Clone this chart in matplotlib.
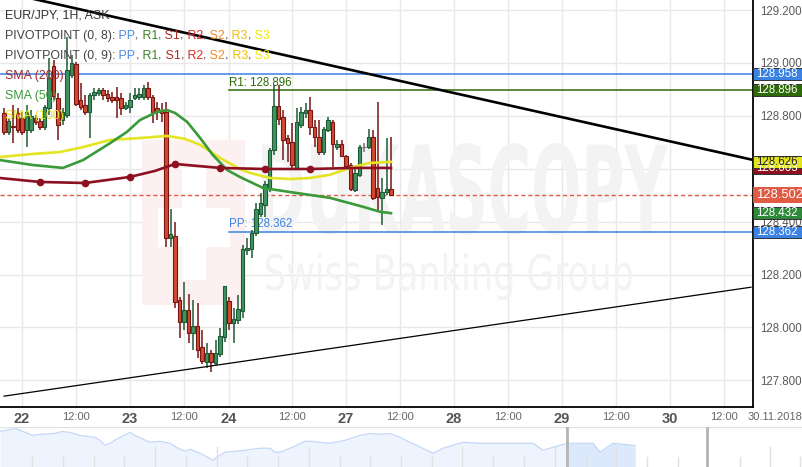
import numpy as np
import matplotlib
matplotlib.use("Agg")
import matplotlib.pyplot as plt
from matplotlib.patches import Rectangle, PathPatch
from matplotlib.textpath import TextPath
from matplotlib.font_manager import FontProperties
from matplotlib.transforms import Affine2D, blended_transform_factory

plt.rcParams['font.family'] = ['Liberation Sans', 'DejaVu Sans']

# hourly candles (bar index 0 = first visible bar)
bar_open = [128.811, 128.739, 128.762, 128.811, 128.792, 128.747, 128.747, 128.792, 128.781, 128.758,
            128.830, 128.989, 128.868, 128.784, 128.803, 128.955, 128.996, 128.860, 128.841, 128.815,
            128.879, 128.886, 128.898, 128.883, 128.871, 128.871, 128.868, 128.830, 128.834, 128.868,
            128.871, 128.871, 128.905, 128.871, 128.830, 128.822, 128.815, 128.338, 128.346, 128.104,
            128.021, 128.066, 127.979, 128.006, 127.926, 127.870, 127.904, 127.866, 127.900, 127.964,
            128.100, 128.017, 128.028, 128.062, 128.293, 128.297, 128.357, 128.429, 128.463, 128.527,
            128.671, 128.837, 128.796, 128.716, 128.701, 128.603, 128.766, 128.811, 128.822, 128.758,
            128.720, 128.663, 128.747, 128.777, 128.682, 128.694, 128.648, 128.614, 128.520, 128.577,
            128.682, 128.682, 128.720, 128.527, 128.490, 128.512, 128.524]
bar_high = [128.830, 128.792, 128.841, 128.830, 128.815, 128.841, 128.822, 128.803, 128.792, 128.841,
            129.019, 129.011, 128.886, 128.830, 129.098, 129.030, 129.004, 128.924, 128.879, 128.886,
            128.905, 128.905, 128.905, 128.898, 128.890, 128.909, 128.886, 128.852, 128.886, 128.905,
            128.905, 128.917, 128.928, 128.879, 128.852, 128.849, 128.852, 128.448, 128.399, 128.115,
            128.172, 128.127, 128.104, 128.093, 127.991, 127.941, 127.915, 127.953, 127.998, 128.157,
            128.115, 128.074, 128.123, 128.312, 128.338, 128.369, 128.471, 128.508, 128.554, 128.679,
            128.917, 128.917, 128.822, 128.728, 128.773, 128.830, 128.834, 128.849, 128.871, 128.784,
            128.784, 128.758, 128.796, 128.784, 128.709, 128.709, 128.652, 128.622, 128.607, 128.690,
            128.697, 128.750, 128.747, 128.852, 128.565, 128.716, 128.720]
bar_low = [128.728, 128.728, 128.697, 128.735, 128.728, 128.682, 128.735, 128.766, 128.747, 128.747,
           128.803, 128.860, 128.709, 128.766, 128.792, 128.943, 128.837, 128.822, 128.803, 128.716,
           128.860, 128.875, 128.860, 128.852, 128.849, 128.792, 128.803, 128.822, 128.811, 128.860,
           128.860, 128.860, 128.860, 128.773, 128.784, 128.777, 128.304, 128.304, 128.074, 127.960,
           127.991, 127.941, 127.915, 127.885, 127.862, 127.847, 127.832, 127.855, 127.889, 127.945,
           127.991, 127.941, 128.013, 128.036, 128.274, 128.263, 128.346, 128.418, 128.418, 128.512,
           128.652, 128.766, 128.633, 128.626, 128.595, 128.595, 128.754, 128.792, 128.728, 128.682,
           128.652, 128.652, 128.739, 128.607, 128.671, 128.645, 128.607, 128.516, 128.512, 128.569,
           128.663, 128.675, 128.482, 128.437, 128.388, 128.501, 128.497]
bar_close = [128.739, 128.781, 128.758, 128.747, 128.739, 128.815, 128.800, 128.777, 128.758, 128.834,
             128.943, 128.875, 128.766, 128.815, 128.973, 129.000, 128.845, 128.834, 128.815, 128.879,
             128.890, 128.898, 128.879, 128.868, 128.860, 128.860, 128.830, 128.841, 128.860, 128.879,
             128.883, 128.905, 128.871, 128.815, 128.815, 128.811, 128.338, 128.353, 128.096, 128.021,
             128.066, 127.979, 128.006, 127.915, 127.873, 127.904, 127.870, 127.904, 127.968, 128.157,
             128.017, 128.032, 128.070, 128.297, 128.301, 128.357, 128.448, 128.471, 128.542, 128.671,
             128.837, 128.788, 128.709, 128.697, 128.614, 128.777, 128.815, 128.822, 128.758, 128.720,
             128.663, 128.750, 128.784, 128.694, 128.694, 128.648, 128.610, 128.523, 128.584, 128.682,
             128.682, 128.720, 128.490, 128.493, 128.512, 128.524, 128.502]

# moving averages, read at a few bar positions
sma200_x = [-1, 8, 18, 28, 33.6, 38, 48, 58, 68, 78, 86]
sma200_y = [128.565, 128.550, 128.546, 128.569, 128.592, 128.618, 128.603, 128.599, 128.599, 128.603, 128.603]
sma200_dots = [1, 2, 3, 5, 6, 7, 8]
sma50_x = [-1, 6.4, 13.1, 17.6, 23.6, 27.3, 30.2, 34, 36.2, 38, 40.7, 43.6, 46.4, 49.6, 52.4, 57.6, 65.1, 72.4, 79.8, 83.6, 86]
sma50_y = [128.633, 128.614, 128.603, 128.633, 128.697, 128.739, 128.784, 128.815, 128.822, 128.811, 128.777,
           128.716, 128.652, 128.595, 128.569, 128.527, 128.508, 128.490, 128.456, 128.437, 128.432]
sma100_x = [-1, 6.4, 12.4, 17.6, 23.6, 30.2, 36.2, 40.2, 43.6, 48, 52.4, 54.7, 59.1, 63.6, 68, 72.4, 76.9, 81.3, 86]
sma100_y = [128.644, 128.656, 128.663, 128.682, 128.709, 128.716, 128.724, 128.713, 128.690, 128.641, 128.599,
            128.584, 128.565, 128.561, 128.565, 128.577, 128.603, 128.622, 128.626]

# trend lines
upper_x = [0, 166]
upper_y = [129.267, 128.635]
lower_x = [0, 166]
lower_y = [127.740, 128.152]

# pivot levels
pp_prev = 128.958
r1 = 128.896
pp = 128.362
pivot_start = 50
last_price = 128.502

# axis ticks
tick_x = [4, 16, 28, 40, 50, 64, 76, 88, 100, 112, 124, 136, 148, 160]
tick_labels = ['22', '12:00', '23', '12:00', '24', '12:00', '27', '12:00',
               '28', '12:00', '29', '12:00', '30', '12:00']
price_ticks = [127.8, 128.0, 128.2, 128.4, 128.6, 128.8, 129.0, 129.2]

# right side price tags
tag_values = [128.958, 128.896, 128.603, 128.626, 128.502, 128.432, 128.362]
tag_colors = ['#3a82e4', '#2c6a06', '#8c1020', '#e4e41e', '#e05a44', '#2e8a3a', '#3a82e4']
tag_text = ['white', 'white', 'white', '#222222', 'white', 'white', 'white']

# navigator area (pixel x, height)
nav_x = [0, 15, 33, 40, 55, 62, 70, 80, 95, 100, 105, 110, 118, 130, 135, 150, 160, 170, 178, 185,
         190, 200, 213, 217, 225, 235, 245, 260, 270, 275, 280, 290, 305, 310, 330, 345, 360, 370,
         380, 390, 400, 410, 433, 443, 463, 480, 510, 533, 543, 560, 568, 593, 600, 613, 633, 635]
nav_h = [36, 39, 32, 33, 34, 36, 35, 32, 30, 27, 22, 24, 29, 35, 32, 25, 26, 24, 19, 16,
         18, 14, 7, 10, 15, 16, 17, 19, 19, 15, 15, 19, 26, 26, 24, 27, 32, 34,
         33, 34, 30, 25, 14, 19, 25, 24, 24, 24, 17, 22, 24, 24, 15, 24, 22, 22]
nav_short_ticks = [32, 63, 94, 124, 186, 247, 278, 340, 370, 401, 432, 493, 524, 586, 647, 678, 740, 800]
nav_tall_ticks = [155, 217, 309, 462, 555, 616, 770]

W, H = 803, 467
fig = plt.figure(figsize=(W / 100, H / 100), dpi=100)
ax = fig.add_axes([0, (H - 407) / H, 753 / W, 407 / H])
ax.set_xlim(-0.89, 166.44)
ax.set_ylim(127.699, 129.238)

for p in price_ticks:
    ax.axhline(p, color='#e8e8e8', lw=1, zorder=0)
for t in tick_x:
    ax.axvline(t, color='#e8e8e8', lw=1, zorder=0)

# watermark, drawn in axes pixel space
pix = Affine2D().scale(1 / 753, -1 / 407).translate(0, 1) + ax.transAxes


def fit_text(s, x0, y0, x1, y1, weight, color):
    tp = TextPath((0, 0), s, size=10, prop=FontProperties(family='DejaVu Sans', weight=weight))
    e = tp.get_extents()
    tr = Affine2D().translate(-e.x0, -e.y0).scale((x1 - x0) / e.width, -(y1 - y0) / e.height).translate(x0, y1)
    ax.add_patch(PathPatch(tp, transform=tr + pix, facecolor=color, edgecolor='none', zorder=0.5))


ax.add_patch(Rectangle((142, 140), 103, 165, transform=pix, facecolor='#fdf0f1', edgecolor='none', zorder=0.4))
ax.add_patch(Rectangle((182, 168), 24, 112, transform=pix, facecolor='white', edgecolor='none', zorder=0.45))
ax.add_patch(Rectangle((158, 208), 72, 39, transform=pix, facecolor='white', edgecolor='none', zorder=0.45))
fit_text('DUKASCOPY', 262, 143, 668, 235, 'bold', '#f3f3f3')
fit_text('Swiss Banking Group', 266, 253, 632, 300, 'normal', '#f3f3f3')

# pivot lines
ax.axhline(pp_prev, color='#3a82e4', lw=1.1, zorder=2)
ax.plot([pivot_start, 170], [r1, r1], color='#2c6a06', lw=1.1, zorder=2)
ax.plot([pivot_start, 170], [pp, pp], color='#3a82e4', lw=1.1, zorder=2)
ax.text(pivot_start, r1 + 0.006, 'R1: %.3f' % r1, color='#2c6a06', fontsize=8.3, va='bottom', ha='left')
ax.text(pivot_start, pp + 0.006, 'PP: %.3f' % pp, color='#3a82e4', fontsize=8.3, va='bottom', ha='left')
ax.axhline(last_price, color='#e05a44', lw=1, ls=(0, (3, 2)), zorder=2)

# candles
for i in range(len(bar_open)):
    o, h, l, c = bar_open[i], bar_high[i], bar_low[i], bar_close[i]
    if c > o:
        face, edge = '#3f9462', '#1f5a34'
    elif c < o:
        face, edge = '#d24a30', '#781414'
    else:
        face, edge = '#9a9a9a', '#777777'
    ax.plot([i, i], [l, h], color=edge, lw=1.1, zorder=3, solid_capstyle='butt')
    ax.add_patch(Rectangle((i - 0.38, min(o, c)), 0.76, max(abs(c - o), 0.0015),
                           facecolor=face, edgecolor=edge, lw=0.8, zorder=4))

# moving averages
ax.plot(sma100_x, sma100_y, color='#e4e422', lw=1.9, zorder=5)
ax.plot(sma50_x, sma50_y, color='#3a9a3a', lw=1.9, zorder=5)
ax.plot(sma200_x, sma200_y, color='#8c1020', lw=1.9, zorder=5,
        marker='o', markersize=4.5, markevery=sma200_dots)

# trend lines
ax.plot(upper_x, upper_y, color='black', lw=1.9, zorder=6)
ax.plot(lower_x, lower_y, color='black', lw=0.9, zorder=6)

# axes styling
for s in ['top', 'left']:
    ax.spines[s].set_visible(False)
for s in ['right', 'bottom']:
    ax.spines[s].set_linewidth(1.3)
    ax.spines[s].set_zorder(7)
ax.yaxis.tick_right()
ax.set_yticks(price_ticks)
ax.set_yticklabels(['%.3f' % p for p in price_ticks])
ax.tick_params(axis='y', length=0, pad=5, labelsize=8.3, labelcolor='#5a5a5a')
ax.set_xticks(tick_x)
ax.set_xticklabels(tick_labels)
ax.tick_params(axis='x', length=0, pad=3.5, labelcolor='#666666')
for lab in ax.get_xticklabels():
    if ':' in lab.get_text():
        lab.set_fontsize(8)
    else:
        lab.set_fontsize(10.5)
        lab.set_fontweight('bold')
        lab.set_color('#555555')
fig.text(775 / W, (H - 417) / H, '30.11.2018', ha='center', va='center', fontsize=8, color='#666666')

# price tags on the right
tag_tr = blended_transform_factory(ax.transAxes, ax.transData)
for v, fc, tc in zip(tag_values, tag_colors, tag_text):
    big = v == last_price
    hgt = (15 if big else 12) / 264.5
    ax.add_patch(Rectangle((1.0, v - hgt / 2), 49 / 753, hgt, transform=tag_tr, facecolor=fc,
                           edgecolor='#333333' if not big else fc, lw=0.7, clip_on=False, zorder=8))
    ax.text(1.0 + 3 / 753, v, '%.3f' % v, transform=tag_tr, color=tc, fontsize=9.4 if big else 8.3,
            va='center', ha='left', clip_on=False, zorder=9)

# header text with coloured parts
renderer = fig.canvas.get_renderer()


def colour_line(x, y, parts, size=8.9):
    for s, c in parts:
        t = fig.text(x / W, 1 - y / H, s, color=c, fontsize=size, va='center', ha='left', zorder=10)
        x += t.get_window_extent(renderer).width


pivot_names = [(' PP', '#4a8ae0'), (',', '#444444'), (' R1', '#3c8228'), (',', '#444444'),
               (' S1', '#b02828'), (',', '#444444'), (' R2', '#e02828'), (',', '#444444'),
               (' S2', '#f08c28'), (',', '#444444'), (' R3', '#f0be00'), (',', '#444444'),
               (' S3', '#f0e600')]
colour_line(5, 15, [('EUR/JPY, 1H, ASK', '#333333')])
colour_line(5, 36, [('PIVOTPOINT (0, 8):', '#444444')] + pivot_names)
colour_line(5, 56, [('PIVOTPOINT (0, 9):', '#444444')] + pivot_names)
colour_line(5, 76, [('SMA (200)', '#a02830')])
colour_line(5, 96, [('SMA (50)', '#3a9a3a')])
colour_line(5, 116, [('SMA (100)', '#e4e422')])

# navigator
nav = fig.add_axes([0, 0, 1, 40 / H])
nav.set_xlim(0, W)
nav.set_ylim(0, 40.5)
nav.axis('off')
nav.axhline(40, color='#e2e2e2', lw=1)
nav_x_arr = np.array(nav_x)
nav.fill_between(nav_x, 0, nav_h, color='#eef4fd', lw=0)
nav.fill_between(nav_x, 0, nav_h, where=nav_x_arr >= 568, color='#dce8fb', lw=0)
nav.plot(nav_x, nav_h, color='#c4d8f6', lw=0.9)
for t in nav_short_ticks:
    nav.plot([t, t], [0, 10], color='#e0e0e0', lw=1)
for t in nav_tall_ticks:
    nav.plot([t, t], [0, 20], color='#e0e0e0', lw=1)
for t in [567, 707]:
    nav.plot([t, t], [0, 40], color='#b4b4b4', lw=2)

fig.savefig('out.png', dpi=100)
